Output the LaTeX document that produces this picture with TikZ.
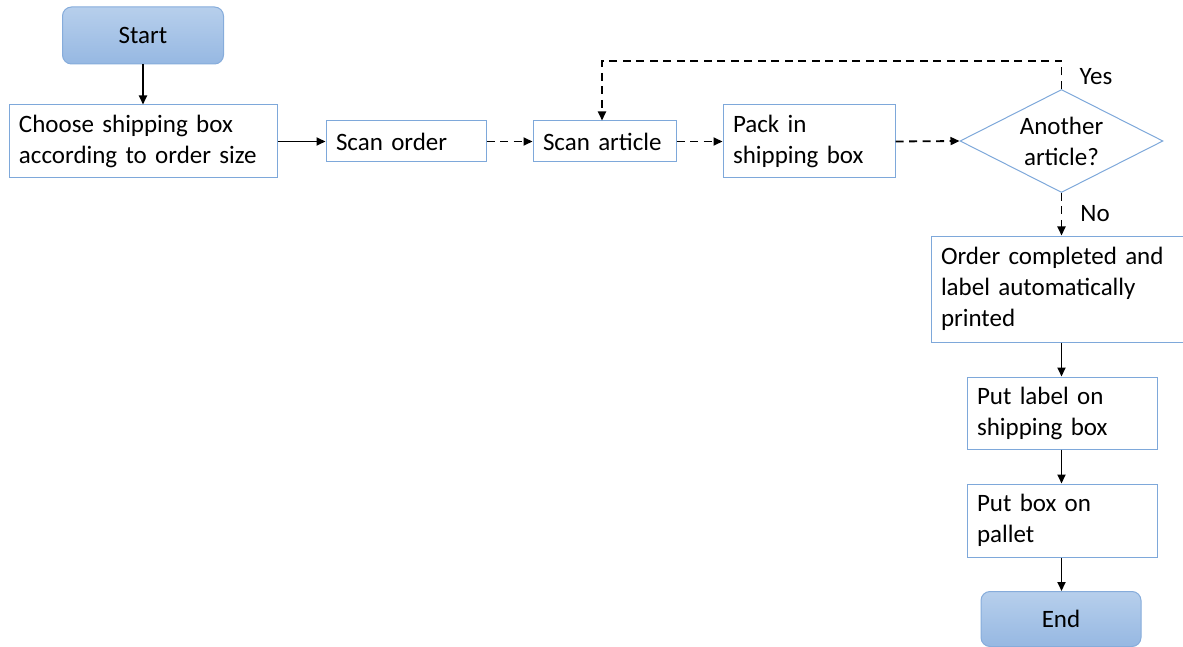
\documentclass[tikz,border=0pt]{standalone}
\usepackage{fontspec}
\setmainfont{Carlito}
\usetikzlibrary{arrows.meta,shapes.geometric}
\definecolor{boxline}{HTML}{7EA8DA}
\definecolor{termtop}{HTML}{B7CFEC}
\definecolor{termbot}{HTML}{96B8E2}
\definecolor{termline}{HTML}{86ACDB}
\tikzset{
  base/.style={font=\fontsize{25}{31}\selectfont, text=black},
  stepbox/.style={base, draw=boxline, line width=1pt, fill=white, inner xsep=10pt, inner ysep=0pt, align=left},
  terminal/.style={base, draw=termline, line width=1pt, rounded corners=9pt, top color=termtop, bottom color=termbot, align=center, inner sep=0pt},
  decision/.style={base, draw=boxline, line width=1pt, diamond, inner sep=0pt, align=center},
  flow/.style={line width=1.8pt, -{Triangle[length=9pt,width=8pt]}},
  soft/.style={flow, dash pattern=on 8pt off 5.5pt},
  lbl/.style={base}
}
\begin{document}
\begin{tikzpicture}[x=1pt,y=-1pt]
\useasboundingbox (0,0) rectangle (1183,647);

% terminals
\node[terminal, minimum width=161pt, minimum height=57pt] (start) at (143,35.5) {Start};
\node[terminal, minimum width=160pt, minimum height=55pt] (end) at (1061,619) {End};

% process steps along the top row
\node[stepbox, text width=248pt, minimum height=73pt] (choose) at (143,141.5) {Choose shipping box\\according to order size};
\node[stepbox, text width=140pt, minimum height=41pt] (scanorder) at (406,141.5) {Scan order};
\node[stepbox, text width=123pt, minimum height=41pt] (scanarticle) at (604.5,141.5) {Scan article};
\node[stepbox, text width=152pt, minimum height=73pt] (pack) at (809,141.5) {Pack in\\shipping box};

% decision
\node[decision, minimum width=203pt, minimum height=103pt, shape aspect=1.97] (another) at (1061.5,141) {Another\\article?};

% steps down the right column
\node[stepbox, text width=232pt, minimum height=106pt] (completed) at (1057,289) {Order completed and\\label automatically\\printed};
\node[stepbox, text width=170pt, minimum height=72pt] (label) at (1062,413) {Put label on\\shipping box};
\node[stepbox, text width=170pt, minimum height=73pt] (pallet) at (1062,520.5) {Put box on\\pallet};

% connectors
\draw[flow] (start.south) -- (start.south |- choose.north);
\draw[flow] (choose.east) -- (scanorder.west);
\draw[soft] (scanorder.east) -- (scanarticle.west);
\draw[soft] (scanarticle.east) -- (pack.west);
\draw[soft] (pack.east) -- (another.west);
\coordinate (loop) at (1061.5,61);
\draw[soft] (another.north) -- (loop) -| ([xshift=-2.5pt]scanarticle.north);
\draw[soft] (another.south) -- (another.south |- completed.north);
\draw[flow] (another.south |- completed.south) -- (another.south |- label.north);
\draw[flow] (another.south |- label.south) -- (another.south |- pallet.north);
\draw[flow] (another.south |- pallet.south) -- (another.south |- end.north);

% branch labels
\node[lbl] (yes) at (1096,77) {Yes};
\node[lbl] (no) at (1095,214) {No};
\end{tikzpicture}
\end{document}
